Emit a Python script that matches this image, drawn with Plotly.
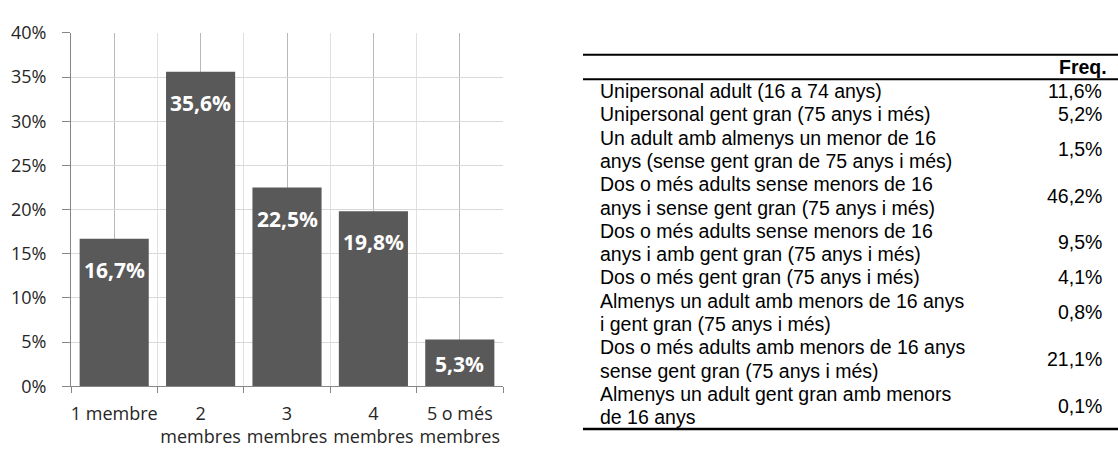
import plotly.graph_objects as go

# ---------------- data ----------------
categories = ["1 membre", "2<br>membres", "3<br>membres", "4<br>membres", "5 o més<br>membres"]
shares = [16.7, 35.6, 22.5, 19.8, 5.3]
share_labels = ["16,7%", "35,6%", "22,5%", "19,8%", "5,3%"]
y_ticks = [0, 5, 10, 15, 20, 25, 30, 35, 40]
y_tick_labels = ["0%", "5%", "10%", "15%", "20%", "25%", "30%", "35%", "40%"]

table_header = "Freq."
household_types = [
    ["Unipersonal adult (16 a 74 anys)"],
    ["Unipersonal gent gran (75 anys i més)"],
    ["Un adult amb almenys un menor de 16", "anys (sense gent gran de 75 anys i més)"],
    ["Dos o més adults sense menors de 16", "anys i sense gent gran (75 anys i més)"],
    ["Dos o més adults sense menors de 16", "anys i amb gent gran (75 anys i més)"],
    ["Dos o més gent gran (75 anys i més)"],
    ["Almenys un adult amb menors de 16 anys", "i gent gran (75 anys i més)"],
    ["Dos o més adults amb menors de 16 anys", "sense gent gran (75 anys i més)"],
    ["Almenys un adult gent gran amb menors", "de 16 anys"],
]
household_freq = ["11,6%", "5,2%", "1,5%", "46,2%", "9,5%", "4,1%", "0,8%", "21,1%", "0,1%"]

# ---------------- layout helpers ----------------
W, H = 1118, 457
def px(x):
    return x / W
def py(y):
    return 1 - y / H

x_pos = list(range(len(categories)))

fig = go.Figure()
fig.add_trace(go.Bar(
    x=x_pos, y=shares,
    marker=dict(color="#595959", line=dict(width=0)),
    width=0.8,
    hoverinfo="skip",
))

# bar value labels (inside, near the top)
px_per_unit = (394 - 21) / 40.0
annotations = []
for xi, v, lab in zip(x_pos, shares, share_labels):
    shift = -min(31, v * px_per_unit / 2)
    annotations.append(dict(
        x=xi, y=v, xref="x", yref="y", text=lab, showarrow=False,
        yanchor="middle", yshift=shift,
        font=dict(family="Open Sans", size=21, color="white", weight="bold"),
    ))

# ---------------- table ----------------
TF = "Liberation Sans"
TS = 19.5
tab_left, tab_right = 583, 1118
top_line, head_line, bottom_line = 44, 70, 439
n_lines = sum(len(r) for r in household_types)
line_h = (bottom_line - head_line) / n_lines

shapes = []
for yy, w in [(top_line, 2), (head_line, 2), (bottom_line, 2.5)]:
    shapes.append(dict(type="line", xref="paper", yref="paper",
                       x0=px(tab_left), x1=px(tab_right), y0=py(yy), y1=py(yy),
                       line=dict(color="black", width=w)))

annotations.append(dict(
    x=px(1109), y=py(57.5), xref="paper", yref="paper", text="<b>" + table_header + "</b>",
    showarrow=False, xanchor="right", yanchor="middle",
    font=dict(family=TF, size=TS, color="black"),
))

li = 0
for lines, val in zip(household_types, household_freq):
    centers = []
    for ln in lines:
        cy = head_line + line_h * (li + 0.5)
        centers.append(cy)
        annotations.append(dict(
            x=px(598), y=py(cy), xref="paper", yref="paper", text=ln,
            showarrow=False, xanchor="left", yanchor="middle",
            font=dict(family=TF, size=TS, color="black"),
        ))
        li += 1
    vy = sum(centers) / len(centers)
    annotations.append(dict(
        x=px(1104), y=py(vy), xref="paper", yref="paper", text=val,
        showarrow=False, xanchor="right", yanchor="middle",
        font=dict(family=TF, size=TS, color="black"),
    ))

fig.update_layout(
    width=W, height=H,
    margin=dict(l=0, r=0, t=0, b=0),
    paper_bgcolor="white", plot_bgcolor="white",
    showlegend=False,
    bargap=0.2,
    annotations=annotations,
    shapes=shapes,
    font=dict(family="Open Sans", size=18, color="#262626"),
)
fig.update_xaxes(
    domain=[px(71), px(503)],
    range=[-0.5, 4.5],
    tickmode="array", tickvals=x_pos, ticktext=categories,
    ticks="", showgrid=True, gridcolor="#b8b8b8", gridwidth=1,
    ticklabelstandoff=11,
    minor=dict(tick0=-0.5, dtick=1, ticks="outside", ticklen=6, tickcolor="#868686",
               showgrid=True, gridcolor="#e0e0e0", gridwidth=1),
    showline=True, linecolor="#868686", linewidth=1,
    zeroline=False, fixedrange=True,
    tickfont=dict(family="Open Sans", size=18, color="#262626"),
)
fig.update_yaxes(
    domain=[py(394), py(21)],
    range=[0, 40],
    tickmode="array", tickvals=y_ticks, ticktext=y_tick_labels,
    ticks="outside", ticklen=8, tickcolor="#868686",
    ticklabelstandoff=12,
    showgrid=True, gridcolor="#d9d9d9", gridwidth=1,
    showline=True, linecolor="#868686", linewidth=1,
    zeroline=False, fixedrange=True,
    tickfont=dict(family="Open Sans", size=18, color="#262626"),
)

fig.write_html("out.html", config={"displayModeBar": False},
               post_script="document.body.style.margin='0';document.body.style.overflow='hidden';")
